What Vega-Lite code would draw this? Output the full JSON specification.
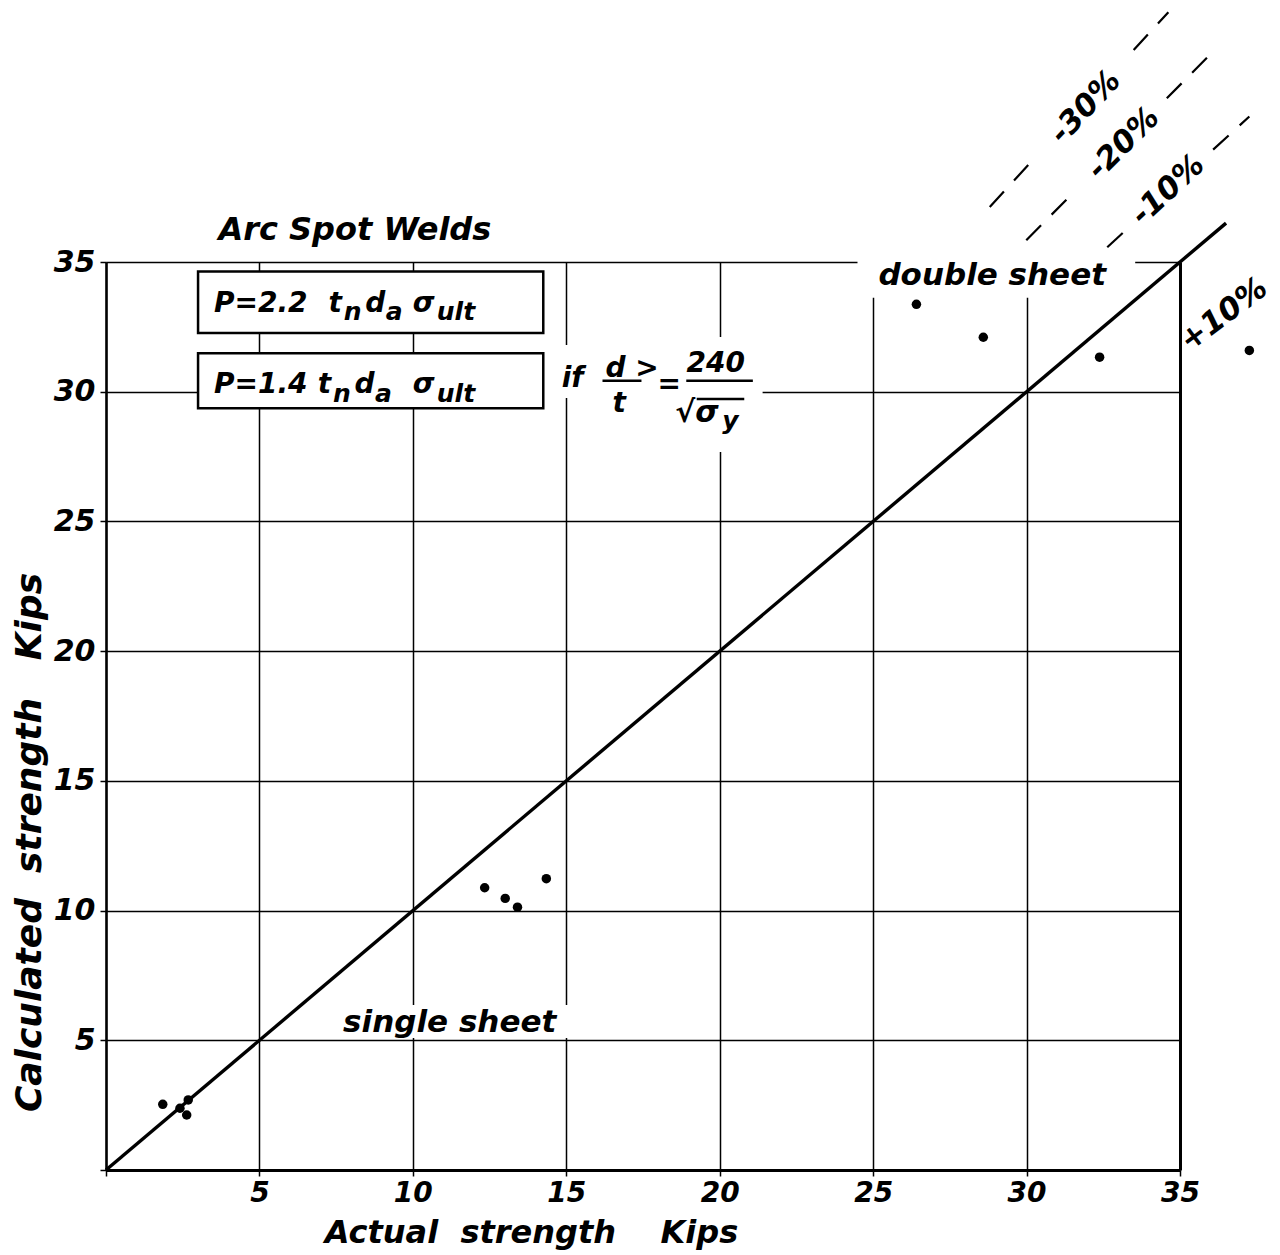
{
  "$schema": "https://vega.github.io/schema/vega-lite/v6.json",
  "width": 1074,
  "height": 908,
  "autosize": {"type": "none"},
  "padding": {"left": 106, "top": 262, "right": 100, "bottom": 85},
  "background": "white",
  "config": {
    "view": {"stroke": null},
    "font": "DejaVu Sans",
    "text": {"font": "DejaVu Sans", "fontStyle": "italic", "fontWeight": "bold", "color": "black"}
  },
  "encoding": {
    "x": {
      "field": "x", "type": "quantitative",
      "scale": {"domain": [0, 35], "zero": false, "nice": false},
      "axis": {
        "values": [0, 5, 10, 15, 20, 25, 30, 35],
        "labelExpr": "datum.value == 0 ? '' : datum.label",
        "labelFont": "DejaVu Sans", "labelFontStyle": "italic", "labelFontWeight": "bold",
        "labelFontSize": 28, "labelColor": "black", "labelPadding": 3,
        "labelFlush": false, "labelOverlap": false,
        "tickSize": 6, "tickColor": "black", "tickWidth": 1.5,
        "domainColor": "black", "domainWidth": 3,
        "grid": true, "gridColor": "black", "gridOpacity": 1,
        "gridWidth": {"condition": {"test": "datum.value === 35", "value": 3}, "value": 1.5},
        "title": "Actual\u00a0\u00a0strength\u00a0\u00a0\u00a0\u00a0Kips",
        "titleFont": "DejaVu Sans", "titleFontStyle": "italic", "titleFontWeight": "bold",
        "titleFontSize": 32, "titleColor": "black",
        "titleX": 425, "titleY": 72, "titleAlign": "center", "titleBaseline": "alphabetic"
      }
    },
    "y": {
      "field": "y", "type": "quantitative",
      "scale": {"domain": [0, 35], "zero": false, "nice": false},
      "axis": {
        "values": [0, 5, 10, 15, 20, 25, 30, 35],
        "labelExpr": "datum.value == 0 ? '' : datum.label",
        "labelFont": "DejaVu Sans", "labelFontStyle": "italic", "labelFontWeight": "bold",
        "labelFontSize": 30, "labelColor": "black", "labelPadding": 5,
        "labelFlush": false, "labelOverlap": false,
        "tickSize": 6, "tickColor": "black", "tickWidth": 1.5,
        "domainColor": "black", "domainWidth": 2.5,
        "grid": true, "gridColor": "black", "gridOpacity": 1, "gridWidth": 1.5,
        "title": "Calculated\u00a0\u00a0strength\u00a0\u00a0\u00a0Kips",
        "titleFont": "DejaVu Sans", "titleFontStyle": "italic", "titleFontWeight": "bold",
        "titleFontSize": 36, "titleColor": "black", "titleAngle": 270,
        "titleX": -66, "titleY": 580, "titleAlign": "center", "titleBaseline": "alphabetic"
      }
    }
  },
  "layer": [
    {
      "data": {"values": [
        {"x": 24.49, "x2": 33.54, "y": 33.62, "y2": 35.27},
        {"x": 7.13, "x2": 15.27, "y": 5.09, "y2": 6.36},
        {"x": 14.23, "x2": 21.39, "y": 29.76, "y2": 31.80},
        {"x": 18.20, "x2": 21.39, "y": 27.68, "y2": 32.11}
      ]},
      "mark": {"type": "rect", "fill": "white", "strokeWidth": 0},
      "encoding": {"x2": {"field": "x2"}, "y2": {"field": "y2"}}
    },
    {
      "data": {"values": [
        {"x": 3.0, "x2": 14.25, "y": 32.26, "y2": 34.63},
        {"x": 3.0, "x2": 14.25, "y": 29.36, "y2": 31.48}
      ]},
      "mark": {"type": "rect", "fill": "white", "stroke": "black", "strokeWidth": 2.5},
      "encoding": {"x2": {"field": "x2"}, "y2": {"field": "y2"}}
    },
    {
      "data": {"values": [{"x": 0, "y": 0}, {"x": 36.5, "y": 36.5}]},
      "mark": {"type": "line", "color": "black", "strokeWidth": 3.4},
      "encoding": {}
    },
    {
      "data": {"values": [
        {"seg": "m30a", "x": 28.8, "y": 37.12}, {"seg": "m30a", "x": 30.26, "y": 39.01},
        {"seg": "m30b", "x": 33.49, "y": 43.17}, {"seg": "m30b", "x": 34.62, "y": 44.63},
        {"seg": "m20a", "x": 29.99, "y": 35.84}, {"seg": "m20a", "x": 31.33, "y": 37.44},
        {"seg": "m20b", "x": 34.57, "y": 41.31}, {"seg": "m20b", "x": 35.91, "y": 42.91},
        {"seg": "m10a", "x": 32.63, "y": 35.57}, {"seg": "m10a", "x": 33.17, "y": 36.16},
        {"seg": "m10b", "x": 36.08, "y": 39.33}, {"seg": "m10b", "x": 37.26, "y": 40.61}
      ]},
      "mark": {"type": "line", "color": "black", "strokeWidth": 2.2, "strokeDash": [21, 15]},
      "encoding": {"detail": {"field": "seg"}}
    },
    {
      "data": {"values": [
        {"x": 16.18, "x2": 17.45, "y": 30.42},
        {"x": 18.91, "x2": 21.08, "y": 30.42},
        {"x": 19.25, "x2": 20.8, "y": 29.72}
      ]},
      "mark": {"type": "rule", "color": "black", "strokeWidth": 2.5},
      "encoding": {"x2": {"field": "x2"}}
    },
    {
      "data": {"values": [
        {"x": 1.85, "y": 2.53}, {"x": 2.68, "y": 2.70}, {"x": 2.41, "y": 2.38}, {"x": 2.63, "y": 2.12},
        {"x": 12.34, "y": 10.88}, {"x": 13.01, "y": 10.47}, {"x": 13.41, "y": 10.13}, {"x": 14.35, "y": 11.23},
        {"x": 26.41, "y": 33.37}, {"x": 28.59, "y": 32.10}, {"x": 32.38, "y": 31.33}, {"x": 37.26, "y": 31.59}
      ]},
      "mark": {"type": "circle", "color": "black", "opacity": 1, "size": 90},
      "encoding": {}
    },
    {
      "data": {"values": [{"x": 8.11, "y": 35.85, "t": "Arc Spot Welds"}]},
      "mark": {"type": "text", "align": "center", "baseline": "alphabetic", "fontSize": 32},
      "encoding": {"text": {"field": "t"}}
    },
    {
      "data": {"values": [
        {"x": 11.2, "y": 5.32, "t": "single sheet"},
        {"x": 28.88, "y": 34.12, "t": "double sheet"}
      ]},
      "mark": {"type": "text", "align": "center", "baseline": "alphabetic", "fontSize": 31},
      "encoding": {"text": {"field": "t"}}
    },
    {
      "data": {"values": [
        {"x": 3.52, "y": 33.09, "t": "P=2.2"}, {"x": 7.25, "y": 33.09, "t": "t"},
        {"x": 8.45, "y": 33.09, "t": "d"}, {"x": 10.0, "y": 33.09, "t": "σ"},
        {"x": 3.52, "y": 29.95, "t": "P=1.4"}, {"x": 6.90, "y": 29.95, "t": "t"},
        {"x": 8.10, "y": 29.95, "t": "d"}, {"x": 10.0, "y": 29.95, "t": "σ"}
      ]},
      "mark": {"type": "text", "align": "left", "baseline": "alphabetic", "fontSize": 28},
      "encoding": {"text": {"field": "t"}}
    },
    {
      "data": {"values": [
        {"x": 7.75, "y": 32.77, "t": "n"}, {"x": 9.12, "y": 32.77, "t": "a"}, {"x": 10.78, "y": 32.77, "t": "ult"},
        {"x": 7.40, "y": 29.61, "t": "n"}, {"x": 8.77, "y": 29.61, "t": "a"}, {"x": 10.78, "y": 29.61, "t": "ult"}
      ]},
      "mark": {"type": "text", "align": "left", "baseline": "alphabetic", "fontSize": 25},
      "encoding": {"text": {"field": "t"}}
    },
    {
      "data": {"values": [
        {"x": 14.85, "y": 30.2, "t": "if"},
        {"x": 16.28, "y": 30.57, "t": "d >"},
        {"x": 16.51, "y": 29.22, "t": "t"},
        {"x": 17.97, "y": 29.95, "t": "="},
        {"x": 18.92, "y": 30.76, "t": "240"}
      ]},
      "mark": {"type": "text", "align": "left", "baseline": "alphabetic", "fontSize": 28},
      "encoding": {"text": {"field": "t"}}
    },
    {
      "data": {"values": [
        {"x": 18.55, "y": 28.84, "t": "√σ"}
      ]},
      "mark": {"type": "text", "align": "left", "baseline": "alphabetic", "fontSize": 30},
      "encoding": {"text": {"field": "t"}}
    },
    {
      "data": {"values": [{"x": 20.08, "y": 28.55, "t": "y"}]},
      "mark": {"type": "text", "align": "left", "baseline": "alphabetic", "fontSize": 25},
      "encoding": {"text": {"field": "t"}}
    },
    {
      "data": {"values": [{"x": 31.93, "y": 40.96, "t": "-30%"}]},
      "mark": {"type": "text", "align": "center", "baseline": "middle", "fontSize": 31, "angle": 313},
      "encoding": {"text": {"field": "t"}}
    },
    {
      "data": {"values": [{"x": 33.17, "y": 39.56, "t": "-20%"}]},
      "mark": {"type": "text", "align": "center", "baseline": "middle", "fontSize": 31, "angle": 315},
      "encoding": {"text": {"field": "t"}}
    },
    {
      "data": {"values": [{"x": 34.62, "y": 37.77, "t": "-10%"}]},
      "mark": {"type": "text", "align": "center", "baseline": "middle", "fontSize": 31, "angle": 317},
      "encoding": {"text": {"field": "t"}}
    },
    {
      "data": {"values": [{"x": 36.44, "y": 32.96, "t": "+10%"}]},
      "mark": {"type": "text", "align": "center", "baseline": "middle", "fontSize": 31, "angle": 323},
      "encoding": {"text": {"field": "t"}}
    }
  ]
}
